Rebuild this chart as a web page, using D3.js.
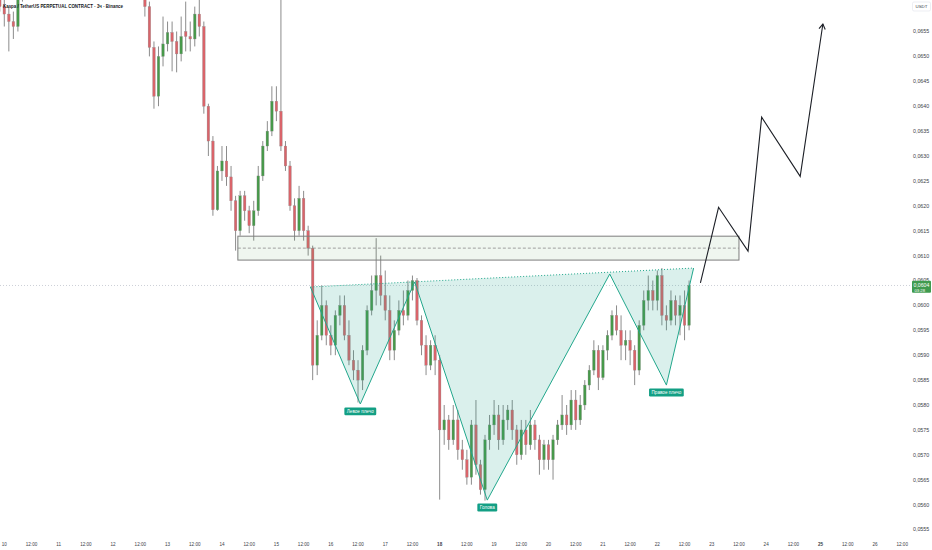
<!DOCTYPE html>
<html><head><meta charset="utf-8">
<script src="https://cdn.jsdelivr.net/npm/d3@7"></script>
<style>html,body{margin:0;padding:0;background:#fff;overflow:hidden}svg{display:block;font-family:"Liberation Sans",Arial,sans-serif}</style>
</head><body><svg id="c" width="932" height="550"></svg>
<script>
// ---------- DATA ----------
const YEAR = 2025, MONTH = 7;              // month index (days 10..26 on axis)
const title = "Kaspa / TetherUS PERPETUAL CONTRACT · 3ч · Binance";
const candleStart = { day: 9, hour: 22 };  // open time of first candle
const candleStepHours = 2;
// null = candle above the visible price range
const candleOpen = [0.0663,0.0660,0.06585,0.0657,0.0656,0.0663,
 null,null,null,null,null,null,null,null,null,null,null,null,null,null,null,null,null,null,null,null,null,null,null,null,null,null,
 0.0664,0.0660,0.06518,0.0642,0.0650,0.06525,0.06548,0.0653,0.06505,0.0655,0.0654,0.06535,0.06585,0.0656,0.0640,0.0633,0.06192,0.0627,0.0629,0.06258,
 0.0621,0.0615,0.0622,0.0619,0.0616,0.0619,0.0626,0.0632,0.0635,0.0641,0.0639,0.0632,0.0628,0.0620,0.0615,0.06215,0.0615,0.06115,0.0588,0.0594,
 0.0600,0.0594,0.0592,0.0598,0.0600,0.0594,0.0589,0.0587,0.0585,0.0591,0.0599,0.0603,0.0606,0.0602,0.0599,0.0591,0.0595,0.0599,0.0598,0.0603,
 0.0605,0.0597,0.0592,0.0588,0.0592,0.0589,0.0575,0.0577,0.0573,0.0577,0.0571,0.0569,0.05655,0.0576,0.0568,0.0563,0.0573,0.0576,0.0578,0.0573,
 0.0577,0.0579,0.0575,0.0570,0.0575,0.0572,0.0576,0.0573,0.0569,0.0572,0.0569,0.0573,0.0576,0.0578,0.0576,0.0581,0.0577,0.0580,0.0584,0.0587,
 0.0591,0.05855,0.0591,0.0594,0.0598,0.0595,0.0592,0.0593,0.0591,0.0587,0.0596,0.0601,0.0603,0.0601,0.0606,0.0598,0.0597,0.0601,0.0598,0.0600,0.0596];
const candleHigh = [0.0664,0.0662,0.0660,0.0659,0.0664,0.0667,
 null,null,null,null,null,null,null,null,null,null,null,null,null,null,null,null,null,null,null,null,null,null,null,null,null,null,
 0.0666,0.0661,0.0653,0.0652,0.0658,0.0657,0.0657,0.0655,0.0658,0.0661,0.0657,0.0660,0.0662,0.0657,0.06405,0.0634,0.0628,0.0632,0.0632,0.0628,
 0.0622,0.0623,0.0623,0.0620,0.0621,0.0628,0.0633,0.0637,0.0644,0.0644,0.0670,0.0633,0.0629,0.06215,0.0624,0.0623,0.0616,0.0612,0.0597,0.0604,
 0.0601,0.0596,0.0599,0.0602,0.0602,0.0597,0.0591,0.0589,0.0592,0.0600,0.0606,0.06135,0.0610,0.0607,0.0602,0.0597,0.0601,0.0603,0.0605,0.0606,
 0.06055,0.0598,0.0594,0.0593,0.0594,0.0590,0.0580,0.0578,0.0580,0.0579,0.0573,0.0571,0.0577,0.0581,0.0569,0.0574,0.0578,0.0581,0.0580,0.0580,
 0.0580,0.0581,0.0576,0.0577,0.0577,0.0579,0.0577,0.0574,0.0573,0.0573,0.0574,0.0577,0.0582,0.0580,0.0583,0.0583,0.0582,0.0585,0.0588,0.0593,
 0.0592,0.0592,0.0595,0.0599,0.0600,0.0598,0.0595,0.0595,0.0592,0.0597,0.0603,0.0606,0.0605,0.0607,0.06075,0.0600,0.0603,0.0602,0.0602,0.0603,0.0605];
const candleLow = [0.0659,0.0656,0.0651,0.06535,0.0655,0.0661,
 null,null,null,null,null,null,null,null,null,null,null,null,null,null,null,null,null,null,null,null,null,null,null,null,null,null,
 0.0658,0.0650,0.06395,0.0640,0.0648,0.0651,0.0647,0.06468,0.0649,0.0651,0.0651,0.0652,0.0654,0.06385,0.0630,0.0618,0.0619,0.0625,0.0624,0.0619,
 0.0611,0.0614,0.0617,0.06145,0.0613,0.0618,0.0625,0.0631,0.0634,0.0637,0.0631,0.0627,0.0619,0.0613,0.0614,0.0613,0.0610,0.0585,0.0586,0.0593,
 0.0592,0.0590,0.0590,0.0596,0.0593,0.0588,0.0585,0.05805,0.0583,0.0590,0.0598,0.0600,0.0600,0.0597,0.0589,0.0589,0.0594,0.0596,0.0597,0.0601,
 0.0596,0.0590,0.0586,0.0587,0.0586,0.0561,0.0572,0.0571,0.0572,0.0569,0.0567,0.0564,0.0564,0.0566,0.0562,0.05608,0.0571,0.0574,0.0571,0.0572,
 0.0575,0.0573,0.0568,0.0569,0.0570,0.0571,0.0571,0.0566,0.0567,0.0567,0.0565,0.0572,0.0575,0.0574,0.0575,0.0575,0.0576,0.0579,0.0583,0.0586,
 0.0583,0.0585,0.0589,0.0593,0.0594,0.0589,0.0589,0.0588,0.0584,0.0586,0.0595,0.0599,0.0599,0.0599,0.0596,0.0595,0.0596,0.0596,0.0594,0.0593,0.0595];
const candleClose = [0.0660,0.06585,0.0657,0.0656,0.0663,0.0666,
 null,null,null,null,null,null,null,null,null,null,null,null,null,null,null,null,null,null,null,null,null,null,null,null,null,null,
 0.0660,0.06518,0.0642,0.0650,0.06525,0.06548,0.0653,0.06505,0.0654,0.0654,0.06535,0.06585,0.0656,0.0640,0.0633,0.06192,0.0627,0.0629,0.06258,0.0621,
 0.0615,0.0622,0.0619,0.0616,0.0619,0.0626,0.0632,0.0635,0.0641,0.0639,0.0632,0.0628,0.0620,0.0615,0.06215,0.0615,0.06115,0.0588,0.0594,0.0600,
 0.0594,0.0592,0.0598,0.0600,0.0594,0.0589,0.0587,0.0585,0.0591,0.0599,0.0603,0.0606,0.0602,0.0599,0.0591,0.0595,0.0599,0.0598,0.0603,0.0605,
 0.0597,0.0592,0.0588,0.0592,0.0589,0.0575,0.0577,0.0573,0.0577,0.0571,0.0569,0.05655,0.0576,0.0568,0.0563,0.0573,0.0576,0.0578,0.0573,0.0577,
 0.0579,0.0575,0.0570,0.0575,0.0572,0.0576,0.0573,0.0569,0.0572,0.0569,0.0573,0.0576,0.0578,0.0576,0.0581,0.0577,0.0580,0.0584,0.0587,0.0591,
 0.05855,0.0591,0.0594,0.0598,0.0595,0.0592,0.0593,0.0591,0.0587,0.0596,0.0601,0.0603,0.0601,0.0606,0.0598,0.0597,0.0601,0.0598,0.0600,0.0596,0.0604];

const priceTicks = [0.0555,0.0560,0.0565,0.0570,0.0575,0.0580,0.0585,0.0590,0.0595,0.0600,0.0605,0.0610,0.0615,0.0620,0.0625,0.0630,0.0635,0.0640,0.0645,0.0650,0.0655];
const axisDays = [10,11,12,13,14,15,16,17,18,19,20,21,22,23,24,25,26];
const boldDays = [18,25];
const lastPrice = 0.0604, lastPriceTimer = "03:28", currency = "USDT";

// resistance zone
const zoneFrom = [14, 7], zoneTo = [23, 12];
const zoneTop = 0.06139, zoneBottom = 0.06091;

// inverse head & shoulders: [day, hour, price]
const hsPoints = [[15,15,0.06037],[16,13,0.05802],[17,13,0.06047],[18,21,0.05609],[21,3,0.06063],[22,4,0.05840],[22,16,0.06075]];
const hsLabels = [{i:1, text:"Левое плечо"},{i:3, text:"Голова"},{i:5, text:"Правое плечо"}];

// projected path: [day, hour, price]
const projection = [[22,19,0.06045],[23,3,0.06197],[23,16,0.06109],[23,22,0.06378],[24,15,0.06259],[25,1,0.06565]];

// ---------- CHART ----------
const W = 932, H = 550, plotW = 910, plotH = 536;
const T = (d, h) => new Date(YEAR, MONTH, d, h || 0);
const x = d3.scaleTime().domain([T(10,0), T(26,0)]).range([4.3, 4.3 + 16*54.42]);
const y = d3.scaleLinear().domain([0.0555, 0.0655]).range([529.5, 31.5]);
const ru = d3.formatLocale({decimal: ",", thousands: " ", grouping: [3], currency: ["", ""]});
const fmt = ru.format(".4f");

const svg = d3.select("#c");
svg.append("rect").attr("width", W).attr("height", H).attr("fill", "#fff");
svg.append("defs").append("clipPath").attr("id", "plot").append("rect").attr("x", 0).attr("y", 0).attr("width", plotW).attr("height", plotH);
const plot = svg.append("g").attr("clip-path", "url(#plot)");

// last price line
plot.append("line").attr("x1", 0).attr("x2", plotW).attr("y1", y(lastPrice)).attr("y2", y(lastPrice))
  .attr("stroke", "#b8bcc6").attr("stroke-width", 0.7).attr("stroke-dasharray", "1,2");

// candles
const candles = candleOpen.map((o, i) => ({
  t: new Date(YEAR, MONTH, candleStart.day, candleStart.hour + i * candleStepHours),
  o, h: candleHigh[i], l: candleLow[i], c: candleClose[i]
})).filter(d => d.o !== null);
const up = "#47994a", dn = "#d9646a", bw = 2.6;
const cg = plot.append("g");
cg.selectAll("line.w").data(candles).join("line").attr("class", "w")
  .attr("x1", d => x(d.t)).attr("x2", d => x(d.t)).attr("y1", d => y(d.h)).attr("y2", d => y(d.l))
  .attr("stroke", "#6f6f6f").attr("stroke-width", 0.8);
cg.selectAll("rect.b").data(candles).join("rect").attr("class", "b")
  .attr("x", d => x(d.t) - bw/2).attr("width", bw)
  .attr("y", d => y(Math.max(d.o, d.c)))
  .attr("height", d => Math.max(0.8, Math.abs(y(d.o) - y(d.c))))
  .attr("fill", d => d.c >= d.o ? up : dn)
  .attr("stroke", "#8a8a8a").attr("stroke-width", 0.3);

// resistance zone
const zx1 = x(T(...zoneFrom)), zx2 = x(T(...zoneTo));
plot.append("rect").attr("x", zx1).attr("y", y(zoneTop)).attr("width", zx2 - zx1).attr("height", y(zoneBottom) - y(zoneTop))
  .attr("fill", "rgba(76,160,80,0.09)").attr("stroke", "#7d7d7d").attr("stroke-width", 1);
plot.append("line").attr("x1", zx1).attr("x2", zx2).attr("y1", y((zoneTop+zoneBottom)/2)).attr("y2", y((zoneTop+zoneBottom)/2))
  .attr("stroke", "#8a8a8a").attr("stroke-width", 0.8).attr("stroke-dasharray", "3,2");

// head & shoulders
const hsXY = hsPoints.map(p => [x(T(p[0], p[1])), y(p[2])]);
const teal = "#22a78c";
plot.append("path").attr("d", "M" + hsXY.map(p => p.join(",")).join("L") + "Z")
  .attr("fill", "rgba(34,168,140,0.17)").attr("stroke", "none");
plot.append("path").attr("d", "M" + hsXY.map(p => p.join(",")).join("L"))
  .attr("fill", "none").attr("stroke", teal).attr("stroke-width", 1);
plot.append("line").attr("x1", hsXY[0][0]).attr("y1", hsXY[0][1]).attr("x2", hsXY[6][0]).attr("y2", hsXY[6][1])
  .attr("stroke", teal).attr("stroke-width", 1).attr("stroke-dasharray", "1,2");
hsLabels.forEach(L => {
  const [px, py] = hsXY[L.i];
  const g = plot.append("g");
  const t = g.append("text").attr("x", px).attr("y", py + 9.3).attr("text-anchor", "middle")
    .attr("font-size", 4.6).attr("fill", "#fff").text(L.text);
  const w = t.node().getComputedTextLength() + 5;
  g.insert("rect", "text").attr("x", px - w/2).attr("y", py + 3.5).attr("width", w).attr("height", 7.8)
    .attr("rx", 1.2).attr("fill", "#139f84");
});

// projection
const pXY = projection.map(p => [x(T(p[0], p[1])), y(p[2])]);
plot.append("path").attr("d", d3.line()(pXY)).attr("fill", "none").attr("stroke", "#1c1f26").attr("stroke-width", 1.1);
{
  const a = pXY[pXY.length-1], b = pXY[pXY.length-2];
  const ang = Math.atan2(a[1]-b[1], a[0]-b[0]), L = 6, s = 0.55;
  const p1 = [a[0] - L*Math.cos(ang - s), a[1] - L*Math.sin(ang - s)];
  const p2 = [a[0] - L*Math.cos(ang + s), a[1] - L*Math.sin(ang + s)];
  plot.append("path").attr("d", `M${p1}L${a}L${p2}`).attr("fill", "none").attr("stroke", "#1c1f26").attr("stroke-width", 1.1);
}

// title
svg.append("text").attr("x", 3).attr("y", 8.3).attr("font-size", 5.6).attr("font-weight", 600)
  .attr("fill", "#131722").attr("textLength", 120).attr("lengthAdjust", "spacingAndGlyphs").text(title);

// right price axis
const ya = svg.append("g");
ya.selectAll("text").data(priceTicks).join("text")
  .attr("x", 913).attr("y", d => y(d) + 1.9).attr("font-size", 5.3).attr("fill", "#3a3e48").text(d => fmt(d));
// currency box
svg.append("rect").attr("x", 912.5).attr("y", 2).attr("width", 18).attr("height", 9).attr("rx", 1.5)
  .attr("fill", "#fff").attr("stroke", "#e0e3eb").attr("stroke-width", 0.6);
svg.append("text").attr("x", 921.5).attr("y", 8.2).attr("text-anchor", "middle").attr("font-size", 4.4).attr("fill", "#3a3e48").text(currency);
// last price tag
const ly = y(lastPrice);
svg.append("rect").attr("x", 912).attr("y", ly - 4.7).attr("width", 19).attr("height", 12).attr("rx", 1)
  .attr("fill", "#3f9b4f");
svg.append("text").attr("x", 913.5).attr("y", ly + 1.3).attr("font-size", 5.2).attr("fill", "#fff").text(fmt(lastPrice));
svg.append("text").attr("x", 914.5).attr("y", ly + 6.3).attr("font-size", 4.2).attr("fill", "#fff").text(lastPriceTimer);

// bottom time axis
const xTicks = [];
axisDays.forEach(d => { xTicks.push({t: T(d,0), label: String(d), bold: boldDays.includes(d)}); xTicks.push({t: T(d,12), label: "12:00", bold: false}); });
svg.append("g").selectAll("text").data(xTicks.filter(d => x(d.t) < 908)).join("text")
  .attr("x", d => x(d.t)).attr("y", 546).attr("text-anchor", "middle").attr("font-size", 4.6)
  .attr("font-weight", d => d.bold ? 700 : 400).attr("fill", "#3a3e48").text(d => d.label);
</script></body></html>
